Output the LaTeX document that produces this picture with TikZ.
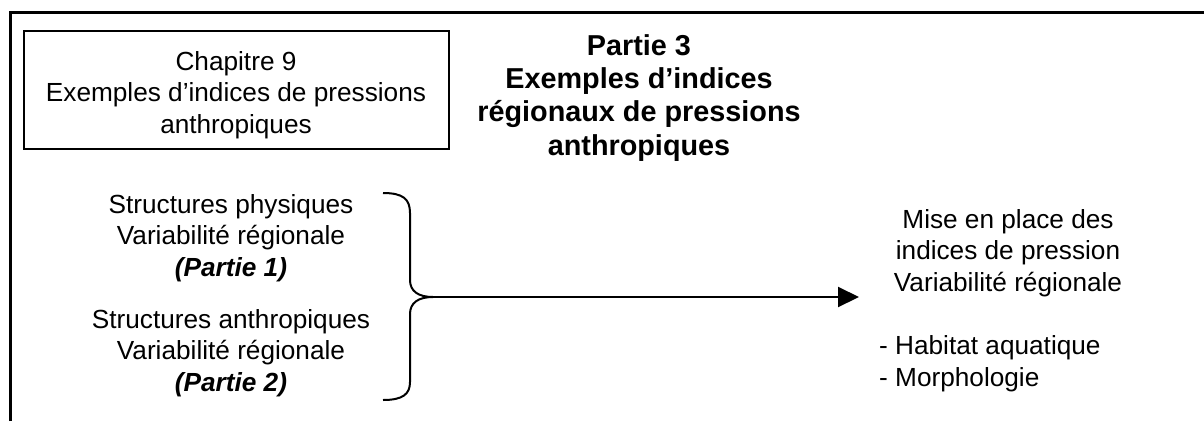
\documentclass[tikz,border=0pt]{standalone}
\usepackage{fontspec}
\setmainfont{Liberation Sans}
\usetikzlibrary{arrows.meta}
\begin{document}
\begin{tikzpicture}[x=1pt,y=-1pt,
  txt/.style={inner sep=0pt, align=center, font=\fontsize{26.2}{31.2}\selectfont},
  ttl/.style={inner sep=0pt, align=center, font=\fontsize{28.8}{33.3}\selectfont\bfseries},
  frame/.style={line width=3pt},
  conn/.style={line width=2pt}]
\useasboundingbox (0,0) rectangle (1204,421);
\draw[frame] (10,421) -- (10,12) -- (1204,12);
\node[draw, line width=2pt, minimum width=425pt, minimum height=118pt, inner sep=0pt] (box) at (236.5,90) {};
\node[txt, anchor=base] (chap) at (236,133) {Chapitre 9\\Exemples d’indices de pressions\\anthropiques};
\node[ttl, anchor=base] (title) at (639,155) {Partie 3\\Exemples d’indices\\régionaux de pressions\\anthropiques};
\node[txt, anchor=base] (s1) at (231,276) {Structures physiques\\Variabilité régionale\\\textbf{\textit{(Partie 1)}}};
\node[txt, anchor=base] (s2) at (231,391) {Structures anthropiques\\Variabilité régionale\\\textbf{\textit{(Partie 2)}}};
\node[txt, anchor=base] (res) at (1008,291) {Mise en place des\\indices de pression\\Variabilité régionale};
\node[txt, anchor=base west, align=left] (lst) at (879,386) {- Habitat aquatique\\- Morphologie};
\coordinate (tip) at (433,297);
\coordinate (end) at (859,297);
\draw[conn] (383,193) .. controls (403,193) and (410,199) .. (410,213) -- (410,280) .. controls (410,291) and (418,297) .. (tip)
  .. controls (418,297) and (410,303) .. (410,314) -- (410,382) .. controls (410,394) and (403,400) .. (383,400);
\draw[conn, -{Triangle[length=21pt,width=20pt]}] (tip) -- (end);
\end{tikzpicture}
\end{document}
